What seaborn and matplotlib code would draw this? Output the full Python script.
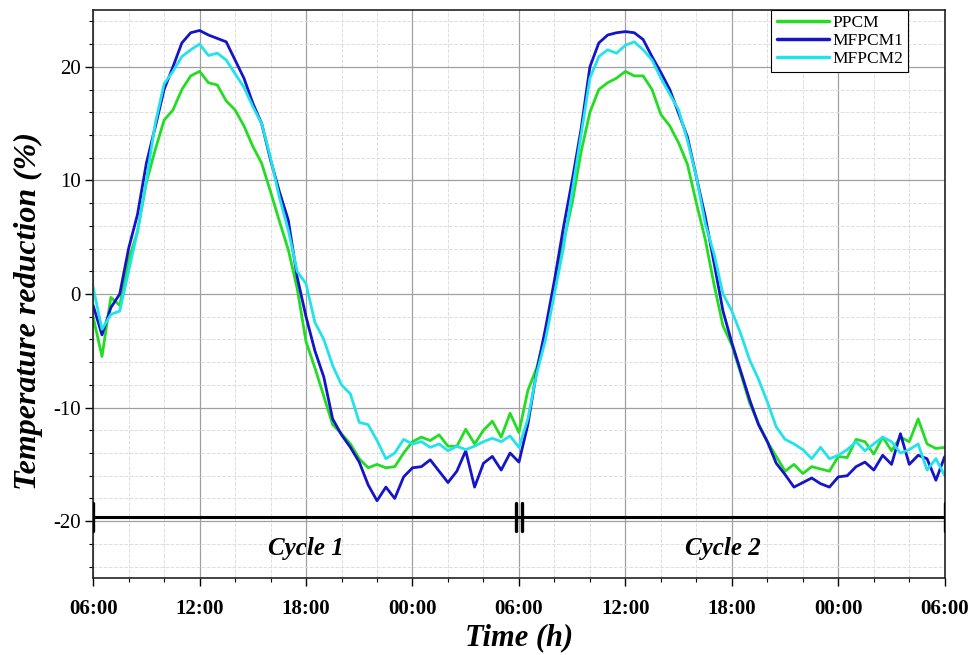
import numpy as np
import pandas as pd
import seaborn as sns
import matplotlib.pyplot as plt
from matplotlib.ticker import MultipleLocator

# time axis: hours after 06:00 on day 1, every 30 min
hours = np.arange(0, 48.5, 0.5)

ppcm = [-2.0, -5.5, -0.3, -1.0, 3.0, 5.5, 9.8, 12.7, 15.3, 16.2, 18.0, 19.2, 19.6,
        18.6, 18.4, 17.0, 16.2, 14.8, 13.0, 11.5, 9.0, 6.4, 3.9, 0.5, -4.2, -6.5,
        -9.0, -11.5, -12.3, -13.2, -14.5, -15.3, -15.0, -15.3, -15.2, -14.0, -13.0,
        -12.6, -12.9, -12.4, -13.4, -13.4, -11.9, -13.2, -12.0, -11.2, -12.6, -10.5,
        -12.2, -8.5, -6.5, -3.5, 0.5, 4.5, 8.0, 12.5, 16.0, 18.0, 18.6, 19.0, 19.6,
        19.2, 19.2, 18.0, 15.8, 14.8, 13.3, 11.4, 8.0, 4.8, 0.8, -2.8, -4.5, -7.0,
        -9.6, -11.4, -13.0, -14.3, -15.6, -15.0, -15.8, -15.2, -15.4, -15.6, -14.3,
        -14.4, -12.8, -13.0, -14.1, -12.6, -13.8, -12.6, -13.0, -11.0, -13.2, -13.6,
        -13.5]

mfpcm1 = [-1.0, -3.6, -1.2, 0.0, 4.0, 7.0, 11.5, 14.7, 18.0, 20.0, 22.1, 23.0, 23.2,
          22.8, 22.5, 22.2, 20.6, 19.0, 16.8, 15.0, 11.8, 9.0, 6.5, 1.5, -2.0, -5.0,
          -7.3, -11.0, -12.4, -13.5, -14.8, -16.8, -18.2, -17.0, -18.0, -16.1, -15.3,
          -15.2, -14.6, -15.6, -16.6, -15.6, -13.8, -17.0, -14.9, -14.3, -15.5, -14.0,
          -14.8, -11.5, -6.8, -3.0, 1.2, 5.8, 10.0, 14.5, 20.0, 22.1, 22.8, 23.0, 23.1,
          23.0, 22.4, 20.9, 19.5, 18.0, 15.9, 13.8, 10.3, 6.8, 2.7, -1.5, -4.3, -6.8,
          -9.3, -11.5, -13.0, -14.9, -15.9, -17.0, -16.6, -16.2, -16.7, -17.0, -16.1,
          -16.0, -15.2, -14.8, -15.5, -14.2, -15.0, -12.3, -15.0, -14.2, -14.5, -16.4,
          -14.3]

mfpcm2 = [0.6, -3.1, -1.8, -1.5, 2.0, 5.5, 10.0, 15.0, 18.5, 19.6, 20.9, 21.5, 22.0,
          21.0, 21.2, 20.6, 19.4, 18.2, 16.5, 15.0, 12.0, 8.5, 5.6, 2.0, 0.9, -2.5,
          -4.0, -6.3, -8.0, -8.8, -11.3, -11.5, -12.9, -14.5, -14.0, -12.8, -13.2,
          -13.0, -13.5, -13.2, -13.8, -13.4, -13.7, -13.4, -13.0, -12.7, -13.0, -12.5,
          -13.5, -11.0, -7.0, -4.0, 0.0, 4.0, 9.0, 14.0, 19.0, 20.9, 21.5, 21.2, 21.9,
          22.2, 21.5, 20.6, 19.0, 17.6, 16.2, 13.5, 10.3, 6.2, 3.5, 0.0, -1.5, -3.5,
          -5.8, -7.5, -9.5, -11.7, -12.8, -13.2, -13.7, -14.5, -13.5, -14.5, -14.2,
          -13.7, -13.0, -13.8, -13.2, -12.6, -13.0, -14.0, -13.7, -13.2, -15.5, -14.5,
          -16.0]

tick_hours = [0, 6, 12, 18, 24, 30, 36, 42, 48]
tick_labels = ["06:00", "12:00", "18:00", "00:00", "06:00", "12:00", "18:00", "00:00", "06:00"]
cycle_names = ["Cycle 1", "Cycle 2"]
cycle_centres = [12, 35.5]

df = pd.DataFrame({
    "hour": np.tile(hours, 3),
    "value": ppcm + mfpcm1 + mfpcm2,
    "sample": ["PPCM"] * len(hours) + ["MFPCM1"] * len(hours) + ["MFPCM2"] * len(hours),
})

sns.set_style("white")
plt.rcParams["font.family"] = ["Liberation Serif", "DejaVu Serif"]
plt.rcParams["axes.unicode_minus"] = False
plt.rcParams["text.color"] = "black"
plt.rcParams["xtick.color"] = "black"
plt.rcParams["ytick.color"] = "black"
plt.rcParams["axes.labelcolor"] = "black"

fig = plt.figure(figsize=(9.7, 6.55), dpi=100)
ax = fig.add_axes([0.096, 0.1176, 0.878, 0.8671])

palette = {"PPCM": "#22dd22", "MFPCM1": "#1414c8", "MFPCM2": "#22e2ea"}
sns.lineplot(data=df, x="hour", y="value", hue="sample", palette=palette,
             linewidth=2.0, ax=ax)

ax.set_xlim(0, 48)
ax.set_ylim(-25, 25)
ax.set_xticks(tick_hours)
ax.set_xticklabels(tick_labels, fontweight="bold", fontsize=15)
ax.xaxis.set_minor_locator(MultipleLocator(2))
ax.yaxis.set_major_locator(MultipleLocator(10))
ax.yaxis.set_minor_locator(MultipleLocator(2))
ax.tick_params(axis="y", labelsize=15, pad=3)
ax.tick_params(axis="x", pad=9)
ax.tick_params(which="major", direction="out", length=6, width=1.0, bottom=True, left=True)
ax.tick_params(which="minor", direction="out", length=3, width=0.8, bottom=True, left=True)

ax.grid(which="major", color="#a0a0a0", linewidth=0.9)
ax.grid(which="minor", color="#dddddd", linewidth=0.7, linestyle="--")
ax.set_axisbelow(True)
for sp in ax.spines.values():
    sp.set_color("#222222")
    sp.set_linewidth(1.2)

ax.set_xlabel("Time (h)", fontsize=22, fontweight="bold", fontstyle="italic", labelpad=3)
ax.set_ylabel("Temperature reduction (%)", fontsize=23, fontweight="bold",
              fontstyle="italic")
ax.yaxis.set_label_coords(-0.059, 0.47)

# cycle markers
ax.plot([0, 48], [-19.6, -19.6], color="black", linewidth=2.2, zorder=5)
for xb in [0, 23.85, 24.15, 48]:
    ax.plot([xb, xb], [-18.4, -20.9], color="black", linewidth=2.4, zorder=5)
for name, xc in zip(cycle_names, cycle_centres):
    ax.text(xc, -22.4, name, ha="center", va="center", fontsize=18,
            fontweight="bold", fontstyle="italic")

leg = ax.legend(loc="upper right", bbox_to_anchor=(0.957, 1.0), borderaxespad=0,
                fancybox=False, framealpha=1, edgecolor="black", fontsize=12.5,
                handlelength=3.0, handletextpad=0.2, borderpad=0.3, labelspacing=0.1)
leg.get_frame().set_linewidth(0.8)
for line in leg.get_lines():
    line.set_linewidth(2.5)

fig.savefig("out.png", dpi=100)
